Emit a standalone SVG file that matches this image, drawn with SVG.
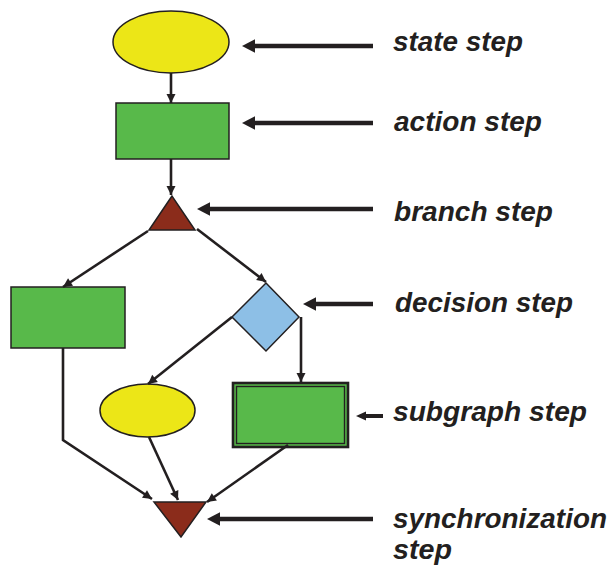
<svg xmlns="http://www.w3.org/2000/svg" width="610" height="565" viewBox="0 0 610 565">
<style>
.n{stroke:#231F20;stroke-width:1.5}
.y{fill:#ECE617}
.g{fill:#58B94A}
.r{fill:#8B2C1B}
.b{fill:#8DBFE6}
.c{fill:none;stroke:#231F20;stroke-width:2.6;marker-end:url(#ah)}
.L{fill:none;stroke:#231F20;stroke-width:4.5;marker-end:url(#big)}
.t{font-family:"Liberation Sans",Arial,Helvetica,sans-serif;font-weight:bold;font-style:italic;font-size:27px;fill:#231F20}
</style>
<defs>
<marker id="ah" markerUnits="userSpaceOnUse" markerWidth="10" markerHeight="10" refX="9" refY="4.5" orient="auto" overflow="visible"><path d="M0,0 L9,4.5 L0,9 z" fill="#231F20"/></marker>
<marker id="big" markerUnits="userSpaceOnUse" markerWidth="14" markerHeight="14" refX="0" refY="6.7" orient="auto" overflow="visible"><path d="M0,0 L13,6.7 L0,13.4 z" fill="#231F20"/></marker>
<marker id="sm" markerUnits="userSpaceOnUse" markerWidth="10" markerHeight="10" refX="0" refY="4.5" orient="auto" overflow="visible"><path d="M0,0 L10,4.5 L0,9 z" fill="#231F20"/></marker>
</defs>
<g id="state"><ellipse class="n y" cx="171" cy="42" rx="58" ry="31"/></g>
<g id="action"><rect class="n g" x="116" y="103" width="113" height="56"/></g>
<g id="branch"><polygon class="n r" points="172,196 149,230 195,230"/></g>
<g id="action2"><rect class="n g" x="11" y="287" width="114" height="61"/></g>
<g id="decision"><polygon class="n b" points="266,283 299,317 266,351 232,317"/></g>
<g id="state2"><ellipse class="n y" cx="147.5" cy="410.5" rx="47.5" ry="26.5"/></g>
<g id="subgraph"><rect class="g" x="233" y="383" width="115" height="64" stroke="#231F20" stroke-width="2.6"/><rect x="236.5" y="386.5" width="108" height="57" fill="none" stroke="#231F20" stroke-width="1.4"/></g>
<g id="sync"><polygon class="n r" points="154,502 206,502 181,537"/></g>
<g id="connectors">
<path class="c" d="M171,73 L171,103"/>
<path class="c" d="M171,159 L171,195"/>
<path class="c" d="M148,231 L63,287"/>
<path class="c" d="M197,229 L266,282"/>
<path class="c" d="M232,317 L148,384"/>
<path class="c" d="M301,317 L301,382"/>
<path class="c" d="M63,348 L63,440 L152,499"/>
<path class="c" d="M149,437 L178,500"/>
<path class="c" d="M288,445 L207,502"/>
</g>
<g id="label-arrows">
<path class="L" d="M373,46 L255,46"/>
<path class="L" d="M373,123 L255,123"/>
<path class="L" d="M373,209 L210,209"/>
<path class="L" d="M373,304 L316,304"/>
<path d="M383,416 L366,416" fill="none" stroke="#231F20" stroke-width="4" marker-end="url(#sm)"/>
<path class="L" d="M373,519 L220,519"/>
</g>
<g id="labels">
<text class="t" x="393" y="51" textLength="130" lengthAdjust="spacingAndGlyphs">state step</text>
<text class="t" x="394" y="131" textLength="148" lengthAdjust="spacingAndGlyphs">action step</text>
<text class="t" x="394" y="221" textLength="159" lengthAdjust="spacingAndGlyphs">branch step</text>
<text class="t" x="395" y="312" textLength="178" lengthAdjust="spacingAndGlyphs">decision step</text>
<text class="t" x="393" y="421" textLength="194" lengthAdjust="spacingAndGlyphs">subgraph step</text>
<text class="t" x="393" y="528" textLength="214" lengthAdjust="spacingAndGlyphs">synchronization</text>
<text class="t" x="393" y="559" textLength="59" lengthAdjust="spacingAndGlyphs">step</text>
</g>
</svg>
